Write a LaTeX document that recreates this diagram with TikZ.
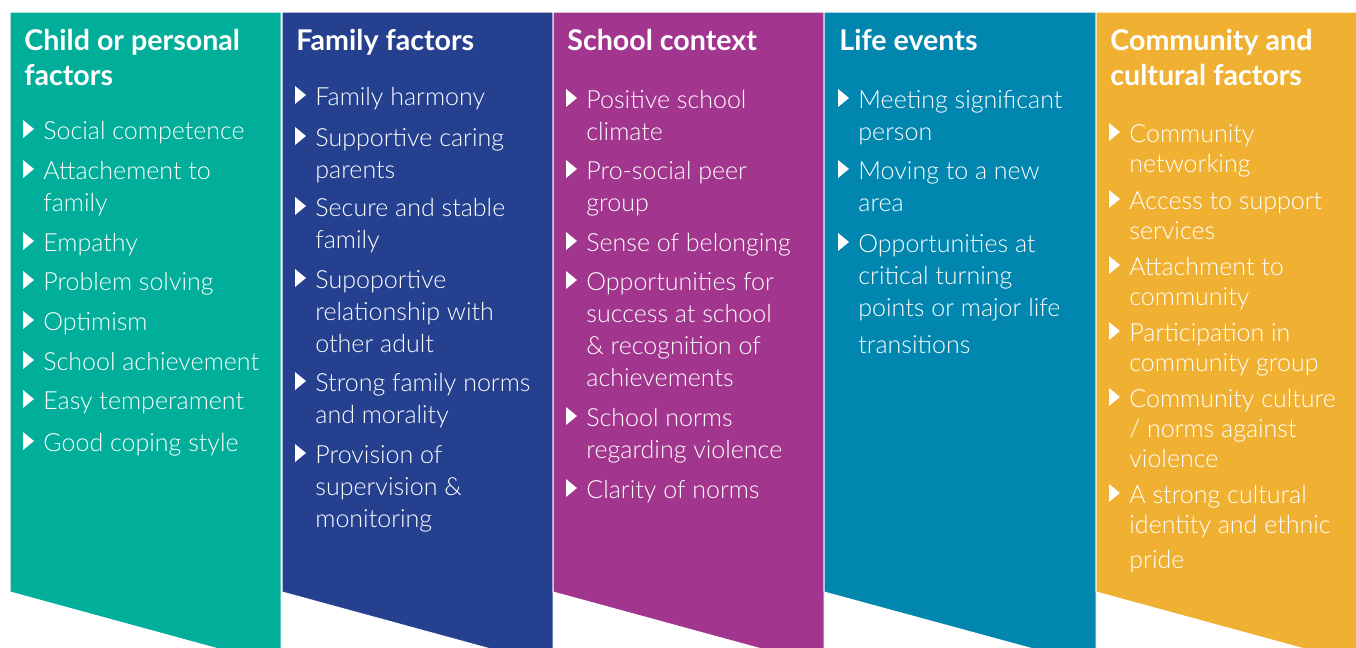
\documentclass[tikz,border=0pt]{standalone}
\usepackage{fontspec}
\setmainfont{Lato}
\newfontfamily\lightfont{Lato Light}
\usetikzlibrary{calc}

\definecolor{childcol}{HTML}{00AE9A}
\definecolor{familycol}{HTML}{25408F}
\definecolor{schoolcol}{HTML}{A2358E}
\definecolor{lifecol}{HTML}{0086AF}
\definecolor{communitycol}{HTML}{F0B133}

% lines stacked from the baseline of the first one
\newcommand{\lines}[1]{\begin{tabular}[t]{@{}l@{}}#1\end{tabular}}
% one factor: text node plus its white arrow bullet
\newcommand{\factoritem}[5][factor]{%
  \node[#1] (#2) at (#3,#4) {\lines{#5}};
  \fill[white] ($(#2.base west)+(-20,-1)$) -- ++(0,-18) -- ++(11,9) -- cycle;}

\begin{document}
\begin{tikzpicture}[x=0.5pt, y=-0.5pt,
    band/.style={draw=white, line width=0.5pt},
    heading/.style={anchor=base west, inner sep=0pt, text=white,
      font=\fontsize{14.3}{17.5}\selectfont\bfseries},
    factor/.style={anchor=base west, inner sep=0pt, text=white,
      font=\lightfont\fontsize{12.5}{16}\selectfont},
    factorc/.style={factor, font=\lightfont\fontsize{12.5}{15}\selectfont}]
  \useasboundingbox (0,0) rectangle (1356,648);
  \clip (0,0) rectangle (1356,648);

  % Coloured bands with slanted bottom
  \filldraw[band, fill=childcol]     (10,12)   -- (281,12)  -- (281,666)  -- (10,592)   -- cycle;
  \filldraw[band, fill=familycol]    (282,12)  -- (553,12)  -- (553,666)  -- (282,592)  -- cycle;
  \filldraw[band, fill=schoolcol]    (553,12)  -- (824,12)  -- (824,666)  -- (553,592)  -- cycle;
  \filldraw[band, fill=lifecol]      (824,12)  -- (1096,12) -- (1096,666) -- (824,592)  -- cycle;
  \filldraw[band, fill=communitycol] (1096,12) -- (1367,12) -- (1367,666) -- (1096,592) -- cycle;

  % Child or personal factors
  \node[heading] (child) at (24,50) {\lines{Child or personal\\factors}};
  \factoritem{c1}{43}{139}{Social competence}
  \factoritem{c2}{43}{179}{Attachement to\\family}
  \factoritem{c3}{43}{251}{Empathy}
  \factoritem{c4}{43}{290}{Problem solving}
  \factoritem{c5}{43}{330}{Optimism}
  \factoritem{c6}{43}{370}{School achievement}
  \factoritem{c7}{43}{409}{Easy temperament}
  \factoritem{c8}{43}{451}{Good coping style}

  % Family factors
  \node[heading] (family) at (296,50) {Family factors};
  \factoritem{f1}{315}{105}{Family harmony}
  \factoritem{f2}{315}{146}{Supportive caring\\parents}
  \factoritem{f3}{315}{216}{Secure and stable\\family}
  \factoritem{f4}{315}{288}{Supoportive\\relationship with\\other adult}
  \factoritem{f5}{315}{391}{Strong family norms\\and morality}
  \factoritem{f6}{315}{463}{Provision of\\supervision \&\\monitoring}

  % School context
  \node[heading] (school) at (567,50) {School context};
  \factoritem{s1}{586}{108}{Positive school\\climate}
  \factoritem{s2}{586}{179}{Pro-social peer\\group}
  \factoritem{s3}{586}{251}{Sense of belonging}
  \factoritem{s4}{586}{290}{Opportunities for\\success at school\\\& recognition of\\achievements}
  \factoritem{s5}{586}{426}{School norms\\regarding violence}
  \factoritem{s6}{586}{498}{Clarity of norms}

  % Life events
  \node[heading] (life) at (839,50) {Life events};
  \factoritem{l1}{858}{108}{Meeting significant\\person}
  \factoritem{l2}{858}{179}{Moving to a new\\area}
  \factoritem{l3}{858}{252}{Opportunities at\\critical turning\\points or major life\\[2.5pt]transitions}

  % Community and cultural factors
  \node[heading] (community) at (1110,50) {\lines{Community and\\cultural factors}};
  \factoritem[factorc]{m1}{1129}{142}{Community\\networking}
  \factoritem[factorc]{m2}{1129}{209}{Access to support\\services}
  \factoritem[factorc]{m3}{1129}{275}{Attachment to\\community}
  \factoritem[factorc]{m4}{1129}{341}{Participation in\\community group}
  \factoritem[factorc]{m5}{1129}{407}{Community culture\\/ norms against\\violence}
  \factoritem[factorc]{m6}{1129}{503}{A strong cultural\\identity and ethnic\\[2.5pt]pride}
\end{tikzpicture}
\end{document}
